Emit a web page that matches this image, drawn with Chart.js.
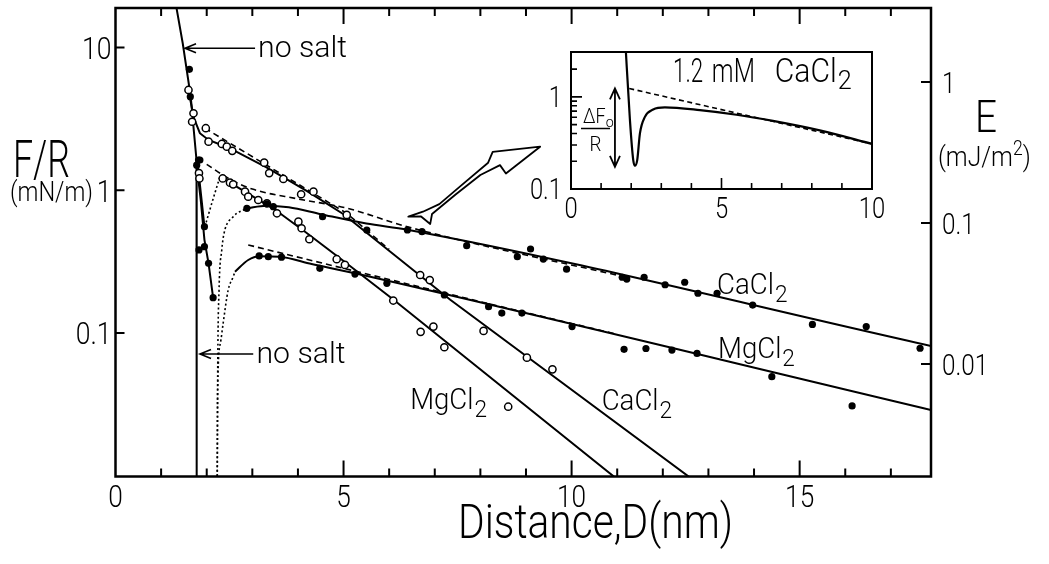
<!DOCTYPE html>
<html>
<head>
<meta charset="utf-8">
<title>Force–distance profiles in CaCl2 and MgCl2</title>
<script src="https://cdn.jsdelivr.net/npm/chart.js@4.4.1/dist/chart.umd.min.js"></script>
<style>
  html, body { margin: 0; padding: 0; background: #fff; }
  #stage { position: relative; width: 1049px; height: 564px; }
  #stage canvas { position: absolute; left: 0; top: 0; }
</style>
</head>
<body>
<div id="stage">
  <canvas id="main" width="1049" height="564"></canvas>
  <canvas id="inset" width="1049" height="564"></canvas>
</div>
<script>
// ---------- axes ----------
const distanceTicks = [0, 5, 10, 15];
const distanceTickLabels = ['0', '5', '10', '15'];
const distanceMinorTicks = [1, 2, 3, 4, 6, 7, 8, 9, 11, 12, 13, 14, 16, 17];
const forceTicks = [10, 1, 0.1];
const forceTickLabels = ['10', '1', '0.1'];
const energyTicks = [1, 0.1, 0.01];
const energyTickLabels = ['1', '0.1', '0.01'];

// ---------- no added salt ----------
const noSaltD = [1.33, 1.474, 1.649, 1.776, 1.78];
const noSaltF = [19.5, 10.7, 4.52, 1.63, 0.008];

// ---------- CaCl2, filled circles ----------
const caLowD = [1.62, 1.64, 1.78, 1.82, 1.85, 1.95, 2.04, 2.14, 2.88, 3.32, 3.46, 4.54, 5.51, 6.40, 6.72,
                7.70, 8.81, 9.10, 9.38, 9.89, 11.11, 11.21, 11.59, 12.05, 12.48, 12.77, 13.19, 13.97, 15.28, 16.46, 17.64];
const caLowF = [7.03, 4.52, 1.50, 1.63, 1.63, 0.403, 0.308, 0.177, 0.748, 0.802, 0.768, 0.653, 0.527, 0.527, 0.513,
                0.409, 0.343, 0.388, 0.330, 0.280, 0.246, 0.239, 0.246, 0.218, 0.227, 0.190, 0.190, 0.157, 0.115, 0.111, 0.0783];
const caLowFitD = [2.88, 3.3, 3.8, 4.5, 5.5, 6.4, 17.88];
const caLowFitF = [0.748, 0.78, 0.76, 0.68, 0.585, 0.53, 0.0813];
const caLowInnerD = [1.78, 1.87, 1.95, 2.04, 2.14];
const caLowInnerF = [1.50, 0.85, 0.45, 0.308, 0.177];
const caLowTheoryD = [2.23, 2.24, 2.27, 2.33, 2.38, 2.58, 2.88];
const caLowTheoryF = [0.008, 0.05, 0.2, 0.382, 0.5, 0.653, 0.748];
const caLowDlvoD = [2.0, 2.5, 3.0, 4.0, 5.07, 6.4, 11.2];
const caLowDlvoF = [1.52, 1.2, 1.02, 0.87, 0.75, 0.555, 0.246];

// ---------- MgCl2, filled circles ----------
const mgLowD = [1.83, 1.95, 3.15, 3.35, 3.64, 4.48, 5.25, 5.95, 7.21, 8.18, 8.47, 8.91, 10.01,
                11.15, 11.63, 12.20, 12.75, 14.39, 16.15];
const mgLowF = [0.382, 0.556, 0.347, 0.343, 0.340, 0.284, 0.259, 0.223, 0.185, 0.153, 0.138, 0.138, 0.111,
                0.077, 0.078, 0.076, 0.072, 0.0495, 0.0309];
const mgLowFitD = [2.62, 2.91, 3.15, 3.6, 4.3, 5.25, 17.88];
const mgLowFitF = [0.269, 0.325, 0.345, 0.342, 0.305, 0.262, 0.0289];
const mgLowInnerD = [1.80, 1.88, 1.95];
const mgLowInnerF = [1.55, 0.9, 0.556];
const mgLowBridgeD = [1.96, 2.12, 2.29];
const mgLowBridgeF = [0.556, 0.83, 1.245];
const mgLowTheoryD = [2.23, 2.24, 2.30, 2.36, 2.47, 2.58, 2.62];
const mgLowTheoryF = [0.008, 0.04, 0.085, 0.117, 0.2, 0.248, 0.269];
const mgLowDlvoD = [2.91, 5.14, 8.2, 11.0];
const mgLowDlvoF = [0.414, 0.277, 0.16, 0.098];

// ---------- CaCl2, open circles ----------
const caHighD = [1.60, 1.68, 1.71, 1.98, 2.04, 2.33, 2.44, 2.56, 3.26, 3.37, 3.68, 4.07, 4.34, 5.07, 6.68, 6.89, 8.07, 9.02, 9.58];
const caHighF = [5.04, 3.02, 3.46, 2.72, 2.19, 2.11, 2.02, 1.89, 1.56, 1.32, 1.20, 0.938, 0.978, 0.672, 0.255, 0.235, 0.1035, 0.0673, 0.0557];
const caHighFitD = [1.60, 1.72, 1.85, 2.04, 2.5, 3.3, 4.2, 5.0, 7.34, 12.7];
const caHighFitF = [5.0, 3.2, 2.51, 2.25, 1.97, 1.45, 0.985, 0.68, 0.171, 0.0092];
const caHighDlvoD = [1.96, 5.07, 6.0];
const caHighDlvoF = [2.72, 0.69, 0.385];

// ---------- MgCl2, open circles ----------
const mgHighD = [1.83, 1.84, 2.35, 2.51, 2.58, 2.84, 2.91, 3.13, 3.32, 3.54, 4.01, 4.08, 4.25, 4.85, 5.03, 6.09, 6.69, 6.97, 7.21, 8.61];
const mgHighF = [1.32, 1.21, 1.21, 1.13, 1.10, 0.978, 0.902, 0.855, 0.811, 0.69, 0.603, 0.542, 0.454, 0.329, 0.30, 0.169, 0.102, 0.111, 0.0796, 0.0305];
const mgHighFitD = [2.29, 2.9, 3.5, 4.2, 5.0, 6.09, 11.05];
const mgHighFitF = [1.245, 0.95, 0.73, 0.5, 0.32, 0.172, 0.0092];

// ---------- inset: 1.2 mM CaCl2 ----------
const insetDistanceTicks = [0, 5, 10];
const insetDistanceTickLabels = ['0', '5', '10'];
const insetDistanceMinor = [1, 2, 3, 4, 6, 7, 8, 9];
const insetForceTicks = [1, 0.1];
const insetForceTickLabels = ['1', '0.1'];
const insetForceMinor = [0.2, 0.3, 0.4, 0.5, 0.6, 0.7, 0.8, 0.9, 2];
const insetD = [1.80, 1.958, 2.068, 2.124, 2.20, 2.29, 2.456, 2.73, 3.12, 4.28, 5.5, 6.71, 8.3, 10.0];
const insetF = [4.2, 0.56, 0.206, 0.179, 0.206, 0.401, 0.607, 0.730, 0.768, 0.718, 0.64, 0.548, 0.43, 0.309];
const insetDlvoD = [1.935, 6.0, 10.0];
const insetDlvoF = [1.233, 0.612, 0.309];
const adhesionD = 1.46;          // ΔF0/R marker position (nm)
const adhesionF = [1.233, 0.174]; // from the DLVO curve down to the force minimum

// outline of the pointer from the main plot to the inset (nm, mN/m)
const pointerD = [6.74, 6.42, 6.70, 6.90, 6.94, 7.45, 8.00, 8.43, 8.56, 9.31, 8.27, 8.17, 7.55, 7.10];
const pointerF = [0.708, 0.653, 0.655, 0.581, 0.682, 0.93, 1.28, 1.50, 1.31, 2.02, 1.86, 1.56, 1.06, 0.80];

// ---------- helpers ----------
const FACE = "Roboto, 'Liberation Sans', Arial, sans-serif";
const WEIGHT = 300;
const pts = (xs, ys) => xs.map((x, i) => ({ x, y: ys[i] }));

function curve(xs, ys, style) {
  const s = style || {};
  return {
    data: pts(xs, ys), showLine: true, pointRadius: 0, fill: false,
    borderColor: '#000', borderWidth: s.width || 2, borderDash: s.dash || [],
    tension: 0, cubicInterpolationMode: s.smooth ? 'monotone' : 'default',
    order: 2
  };
}
function marks(xs, ys, open) {
  return {
    data: pts(xs, ys), showLine: false, pointRadius: 3.6, pointHoverRadius: 3.6,
    pointBackgroundColor: open ? '#fff' : '#000', pointBorderColor: '#000',
    pointBorderWidth: open ? 1.5 : 0, order: 0
  };
}
function put(ctx, str, x, y, size, o) {
  o = o || {};
  ctx.save();
  ctx.font = WEIGHT + ' ' + size + 'px ' + FACE;
  ctx.fillStyle = '#000';
  ctx.textAlign = 'left';
  ctx.textBaseline = 'alphabetic';
  const w = ctx.measureText(str).width;
  const k = o.width ? o.width / w : (o.sx || 0.82);
  const W = w * k;
  const x0 = o.align === 'center' ? x - W / 2 : o.align === 'right' ? x - W : x;
  ctx.translate(x0, y);
  ctx.scale(k, 1);
  ctx.fillText(str, 0, 0);
  ctx.restore();
  return W;
}
function formula(ctx, base, sub, x, yMid, size, sx) {
  const bl = yMid + 0.355 * size;
  const w = put(ctx, base, x, bl, size, { sx });
  put(ctx, sub, x + w + 1, bl + 0.27 * size, size * 0.82, { sx });
}
function head(ctx, tx, ty, ux, uy, len, spread) {
  const bx = tx - ux * len, by = ty - uy * len;
  ctx.moveTo(bx - uy * spread, by + ux * spread);
  ctx.lineTo(tx, ty);
  ctx.lineTo(bx + uy * spread, by - ux * spread);
}

// ---------- main plot decorations ----------
const mainDecor = {
  id: 'mainDecor',
  afterDraw(chart) {
    const ctx = chart.ctx, a = chart.chartArea;
    const sx = chart.scales.x, sy = chart.scales.y, se = chart.scales.yE;
    const X = v => sx.getPixelForValue(v), Y = v => sy.getPixelForValue(v);
    ctx.save();
    ctx.strokeStyle = '#000';

    // hollow pointer towards the inset
    ctx.beginPath();
    pointerD.forEach((d, i) => { const px = X(d), py = Y(pointerF[i]); i ? ctx.lineTo(px, py) : ctx.moveTo(px, py); });
    ctx.closePath();
    ctx.fillStyle = '#fff';
    ctx.fill();
    ctx.lineWidth = 1.8; ctx.lineJoin = 'round';
    ctx.stroke();

    // frame
    ctx.lineJoin = 'miter';
    ctx.lineWidth = 2.5;
    ctx.strokeRect(a.left, a.top, a.right - a.left, a.bottom - a.top);

    // inward tick marks
    ctx.lineWidth = 2;
    ctx.beginPath();
    distanceTicks.forEach(v => {
      if (v === 0) return;
      const p = X(v);
      ctx.moveTo(p, a.bottom); ctx.lineTo(p, a.bottom - 16);
      ctx.moveTo(p, a.top); ctx.lineTo(p, a.top + 16);
    });
    distanceMinorTicks.forEach(v => {
      const p = X(v);
      ctx.moveTo(p, a.bottom); ctx.lineTo(p, a.bottom - 8);
      ctx.moveTo(p, a.top); ctx.lineTo(p, a.top + 8);
    });
    forceTicks.forEach(v => { const p = Y(v); ctx.moveTo(a.left, p); ctx.lineTo(a.left + 9, p); });
    energyTicks.forEach(v => { const p = se.getPixelForValue(v); ctx.moveTo(a.right, p); ctx.lineTo(a.right - 10, p); });
    ctx.stroke();

    // tick labels
    distanceTicks.forEach((v, i) => put(ctx, distanceTickLabels[i], X(v), a.bottom + 30, 32, { align: 'center', sx: 0.82 }));
    forceTicks.forEach((v, i) => put(ctx, forceTickLabels[i], a.left - 4, Y(v) + 0.355 * 32, 32, { align: 'right', sx: 0.83 }));
    energyTicks.forEach((v, i) => put(ctx, energyTickLabels[i], a.right + 11, se.getPixelForValue(v) + 0.355 * 30, 30, { sx: 0.81 }));

    // axis titles
    put(ctx, 'Distance,D(nm)', 595.5, 538, 48, { align: 'center', width: 275 });
    put(ctx, 'F/R', 13, 177, 52, { width: 57 });
    put(ctx, '(mN/m)', 10, 201, 28, { width: 83 });
    put(ctx, 'E', 975, 132, 44, { width: 22 });
    let w = put(ctx, '(mJ/m', 938, 166, 28, { sx: 0.88 });
    w += put(ctx, '2', 938 + w, 155, 20, { sx: 0.88 });
    put(ctx, ')', 938 + w, 166, 28, { sx: 0.88 });

    // "no salt" pointers
    ctx.lineWidth = 1.6;
    [[1.524, 9.87, 3.06, 3.125], [1.853, 0.0714, 3.02, 3.09]].forEach(([tip, f, tail, textAt]) => {
      const y = Y(f);
      ctx.beginPath();
      ctx.moveTo(X(tail), y); ctx.lineTo(X(tip), y);
      head(ctx, X(tip), y, -1, 0, 11, 4.5);
      ctx.stroke();
      put(ctx, 'no salt', X(textAt), y + 9, 29, { width: 89 });
    });

    // salt labels
    formula(ctx, 'CaCl', '2', X(13.19), Y(0.224), 30, 0.92);
    formula(ctx, 'MgCl', '2', X(13.21), Y(0.0799), 30, 0.92);
    formula(ctx, 'MgCl', '2', X(6.46), Y(0.0351), 30, 0.92);
    formula(ctx, 'CaCl', '2', X(10.66), Y(0.0345), 30, 0.92);
    ctx.restore();
  }
};

new Chart(document.getElementById('main'), {
  type: 'scatter',
  data: {
    datasets: [
      marks(caLowD, caLowF, false),
      marks(mgLowD, mgLowF, false),
      marks(caHighD, caHighF, true),
      marks(mgHighD, mgHighF, true),
      curve(noSaltD, noSaltF),
      curve(caLowFitD, caLowFitF, { smooth: true }),
      curve(caLowInnerD, caLowInnerF),
      curve(caLowTheoryD, caLowTheoryF, { dash: [2, 2.5], width: 1.6, smooth: true }),
      curve(caLowDlvoD, caLowDlvoF, { dash: [6, 4], width: 1.6, smooth: true }),
      curve(mgLowFitD, mgLowFitF, { smooth: true }),
      curve(mgLowInnerD, mgLowInnerF),
      curve(mgLowBridgeD, mgLowBridgeF, { dash: [2, 2.5], width: 1.6 }),
      curve(mgLowTheoryD, mgLowTheoryF, { dash: [2, 2.5], width: 1.6, smooth: true }),
      curve(mgLowDlvoD, mgLowDlvoF, { dash: [6, 4], width: 1.6 }),
      curve(caHighFitD, caHighFitF),
      curve(caHighDlvoD, caHighDlvoF, { dash: [6, 4], width: 1.6 }),
      curve(mgHighFitD, mgHighFitF)
    ]
  },
  options: {
    responsive: false, animation: false, events: [],
    layout: { padding: { left: 115.5, right: 118, top: 8, bottom: 87.5 } },
    plugins: { legend: { display: false }, tooltip: { enabled: false } },
    scales: {
      x: { type: 'linear', display: false, min: 0, max: 17.88 },
      y: { type: 'logarithmic', display: false, min: 0.0099, max: 18.9 },
      yE: { type: 'logarithmic', display: false, position: 'right', min: 0.00159, max: 3.35 }
    }
  },
  plugins: [mainDecor]
});

// ---------- inset ----------
const insetDecor = {
  id: 'insetDecor',
  beforeDatasetsDraw(chart) {
    const ctx = chart.ctx, a = chart.chartArea;
    ctx.save();
    ctx.fillStyle = '#fff';
    ctx.fillRect(a.left, a.top, a.right - a.left, a.bottom - a.top);
    ctx.restore();
  },
  afterDraw(chart) {
    const ctx = chart.ctx, a = chart.chartArea;
    const X = v => chart.scales.x.getPixelForValue(v), Y = v => chart.scales.y.getPixelForValue(v);
    ctx.save();
    ctx.strokeStyle = '#000';
    ctx.lineWidth = 2;
    ctx.strokeRect(a.left, a.top, a.right - a.left, a.bottom - a.top);
    ctx.lineWidth = 1.6;
    ctx.beginPath();
    insetDistanceTicks.forEach(v => { if (v === 0 || v === 10) return; ctx.moveTo(X(v), a.bottom); ctx.lineTo(X(v), a.bottom - 11); });
    insetDistanceMinor.forEach(v => { ctx.moveTo(X(v), a.bottom); ctx.lineTo(X(v), a.bottom - 6); });
    insetForceTicks.forEach(v => { ctx.moveTo(a.left, Y(v)); ctx.lineTo(a.left + 11, Y(v)); });
    insetForceMinor.forEach(v => { ctx.moveTo(a.left, Y(v)); ctx.lineTo(a.left + 6, Y(v)); });
    ctx.stroke();

    insetDistanceTicks.forEach((v, i) => put(ctx, insetDistanceTickLabels[i], X(v), a.bottom + 29, 29, { align: 'center', sx: 0.82 }));
    insetForceTicks.forEach((v, i) => put(ctx, insetForceTickLabels[i], a.left - 9, Y(v) + 0.355 * 29, 29, { align: 'right', sx: 0.82 }));

    // ΔF0/R double arrow
    const ax = X(adhesionD), y1 = Y(adhesionF[0]), y2 = Y(adhesionF[1]);
    ctx.lineWidth = 1.8;
    ctx.beginPath();
    ctx.moveTo(ax, y1); ctx.lineTo(ax, y2);
    head(ctx, ax, y1, 0, -1, 11, 5);
    head(ctx, ax, y2, 0, 1, 11, 5);
    ctx.stroke();
    const fl = a.left + 10;
    let w = put(ctx, 'ΔF', fl + 2, 123, 20, { sx: 0.9 });
    put(ctx, 'o', fl + 2 + w, 127, 15, { sx: 0.95 });
    ctx.lineWidth = 1.5;
    ctx.beginPath(); ctx.moveTo(fl, 128.5); ctx.lineTo(fl + 29, 128.5); ctx.stroke();
    put(ctx, 'R', fl + 14.5, 151, 21, { align: 'center', sx: 0.9 });

    // concentration label
    const bl = Y(1.454);
    put(ctx, '1.2', X(3.39), bl, 33, { width: 30 });
    put(ctx, 'mM', X(4.68), bl, 33, { width: 43 });
    const cw = put(ctx, 'CaCl', X(6.77), bl, 33, { width: 62 });
    put(ctx, '2', X(6.77) + cw + 1, bl + 7, 26, { width: 14 });
    ctx.restore();
  }
};

new Chart(document.getElementById('inset'), {
  type: 'scatter',
  data: {
    datasets: [
      curve(insetD, insetF, { smooth: true, width: 2.2 }),
      curve(insetDlvoD, insetDlvoF, { dash: [5, 3.5], width: 1.6 })
    ]
  },
  options: {
    responsive: false, animation: false, events: [],
    layout: { padding: { left: 571, right: 177, top: 52, bottom: 375 } },
    plugins: { legend: { display: false }, tooltip: { enabled: false } },
    scales: {
      x: { type: 'linear', display: false, min: 0, max: 10 },
      y: { type: 'logarithmic', display: false, min: 0.1, max: 3.07 }
    }
  },
  plugins: [insetDecor]
});
</script>
</body>
</html>
